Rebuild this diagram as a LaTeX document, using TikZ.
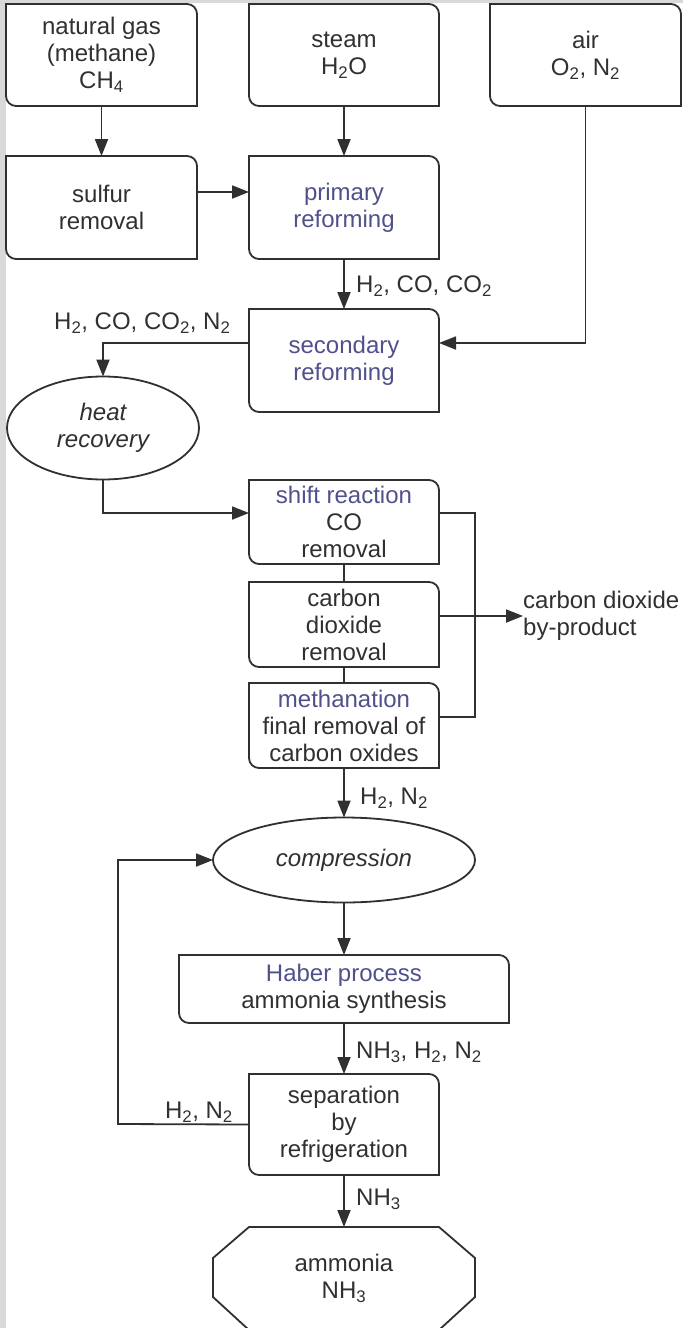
\documentclass[tikz,border=0pt]{standalone}
\usepackage{fontspec}
\setmainfont{Liberation Sans}
\usetikzlibrary{arrows.meta,shapes.geometric,calc}
\definecolor{ink}{HTML}{303030}
\definecolor{blueT}{RGB}{80,80,140}
\definecolor{framegrey}{HTML}{D9D9D9}
\newcommand\pbox[6]{%
  \node[boxnode, minimum width={#4-#2}, minimum height={#5-#3}] (#1) at ({(#2+#4)/2},{-(#3+#5)/2}) {#6};
  \draw[line] (#1.north west) -- ([xshift=-10pt]#1.north east) arc[start angle=90,end angle=0,radius=10pt]
     -- (#1.south east) -- ([xshift=10pt]#1.south west) arc[start angle=270,end angle=180,radius=10pt] -- cycle;}
\begin{document}
\begin{tikzpicture}[x=1pt,y=1pt,
  every node/.style={font=\fontsize{24}{27}\selectfont, text=ink},
  line/.style={draw=ink, line width=1.8pt},
  arr/.style={line, -{Triangle[length=17pt,width=13pt]}},
  boxnode/.style={inner sep=0pt, outer sep=0pt, align=center},
  oval/.style={ellipse, draw=ink, line width=1.8pt, inner sep=0pt, outer sep=0pt, align=center,
               font=\fontsize{24}{27}\selectfont\itshape},
  lab/.style={inner sep=0pt, align=left}]
\useasboundingbox (0,0) rectangle (683,-1328);
\fill[framegrey] (0,0) rectangle (6,-1328);
\fill[framegrey] (0,0) rectangle (683,-3);

% boxes
\pbox{ng}{6}{4}{197}{106}{natural gas\\(methane)\\CH\textsubscript{4}}
\pbox{steam}{249}{4}{439}{106}{steam\\H\textsubscript{2}O}
\pbox{air}{490}{4}{681}{106}{air\\O\textsubscript{2}, N\textsubscript{2}}
\pbox{sulfur}{6}{156}{197}{259}{sulfur\\removal}
\pbox{prim}{249}{156}{439}{259}{\textcolor{blueT}{primary}\\\textcolor{blueT}{reforming}}
\pbox{sec}{249}{309}{439}{412}{\textcolor{blueT}{secondary}\\\textcolor{blueT}{reforming}}
\pbox{shift}{249}{480}{439}{564}{\textcolor{blueT}{shift reaction}\\CO\\removal}
\pbox{co2}{249}{582}{439}{667}{carbon\\dioxide\\removal}
\pbox{meth}{249}{683}{439}{768}{\textcolor{blueT}{methanation}\\final removal of\\carbon oxides}
\pbox{haber}{179}{955}{509}{1023}{\textcolor{blueT}{Haber process}\\ammonia synthesis}
\pbox{sep}{249}{1074}{439}{1175}{separation\\by\\refrigeration}

\node[oval, minimum width=192pt, minimum height=103pt] (heat) at (103,-428) {heat\\recovery};
\node[oval, minimum width=262pt, minimum height=85pt] (comp) at (344,-860) {compression};

\node[boxnode, minimum width=262pt, minimum height=103pt] (amm) at (344,-1278.5) {ammonia\\NH\textsubscript{3}};
\draw[line] (249,-1227) -- (439,-1227) -- (475,-1258) -- (475,-1297) -- (439,-1330)
   -- (249,-1330) -- (213,-1297) -- (213,-1258) -- cycle;

% labels
\node[lab, anchor=west] (l1) at (356,-286) {H\textsubscript{2}, CO, CO\textsubscript{2}};
\node[lab, anchor=west] (l2) at (54,-323) {H\textsubscript{2}, CO, CO\textsubscript{2}, N\textsubscript{2}};
\node[lab, anchor=west] (byprod) at (523,-616) {carbon dioxide\\by-product};
\node[lab, anchor=west] (l3) at (360,-798) {H\textsubscript{2}, N\textsubscript{2}};
\node[lab, anchor=west] (l4) at (356,-1052) {NH\textsubscript{3}, H\textsubscript{2}, N\textsubscript{2}};
\node[lab, anchor=east] (l5) at (233,-1112) {H\textsubscript{2}, N\textsubscript{2}};
\node[lab, anchor=west] (l6) at (356,-1199) {NH\textsubscript{3}};

% connectors
\draw[arr] (ng.south) -- (sulfur.north);
\draw[arr] (steam.south) -- (prim.north);
\draw[arr] ([yshift=15.5pt]sulfur.east) -- ([yshift=15.5pt]prim.west);
\draw[arr] (prim.south) -- (sec.north);
\draw[arr] (air.south) |- ([yshift=17.5pt]sec.east);
\draw[arr] ([yshift=17.5pt]sec.west) -| (heat.north);
\draw[arr] (heat.south) |- ([yshift=9pt]shift.west);
\draw[line] (shift.south) -- (co2.north);
\draw[line] (co2.south) -- (meth.north);
\coordinate (cTop) at (475,-513);
\coordinate (cBot) at (475,-717);
\draw[line] ([yshift=9pt]shift.east) -- (cTop) -- (cBot) -- ([yshift=8.5pt]meth.east);
\draw[arr] ([yshift=8.5pt]co2.east) -- (byprod.west);
\draw[arr] (meth.south) -- (comp.north);
\draw[arr] (comp.south) -- (haber.north);
\draw[arr] (haber.south) -- (sep.north);
\coordinate (fb) at (118,-1124);
\draw[arr] (sep.west) -- (fb) |- (comp.west);
\draw[arr] (sep.south) -- (amm.north);
\end{tikzpicture}
\end{document}
